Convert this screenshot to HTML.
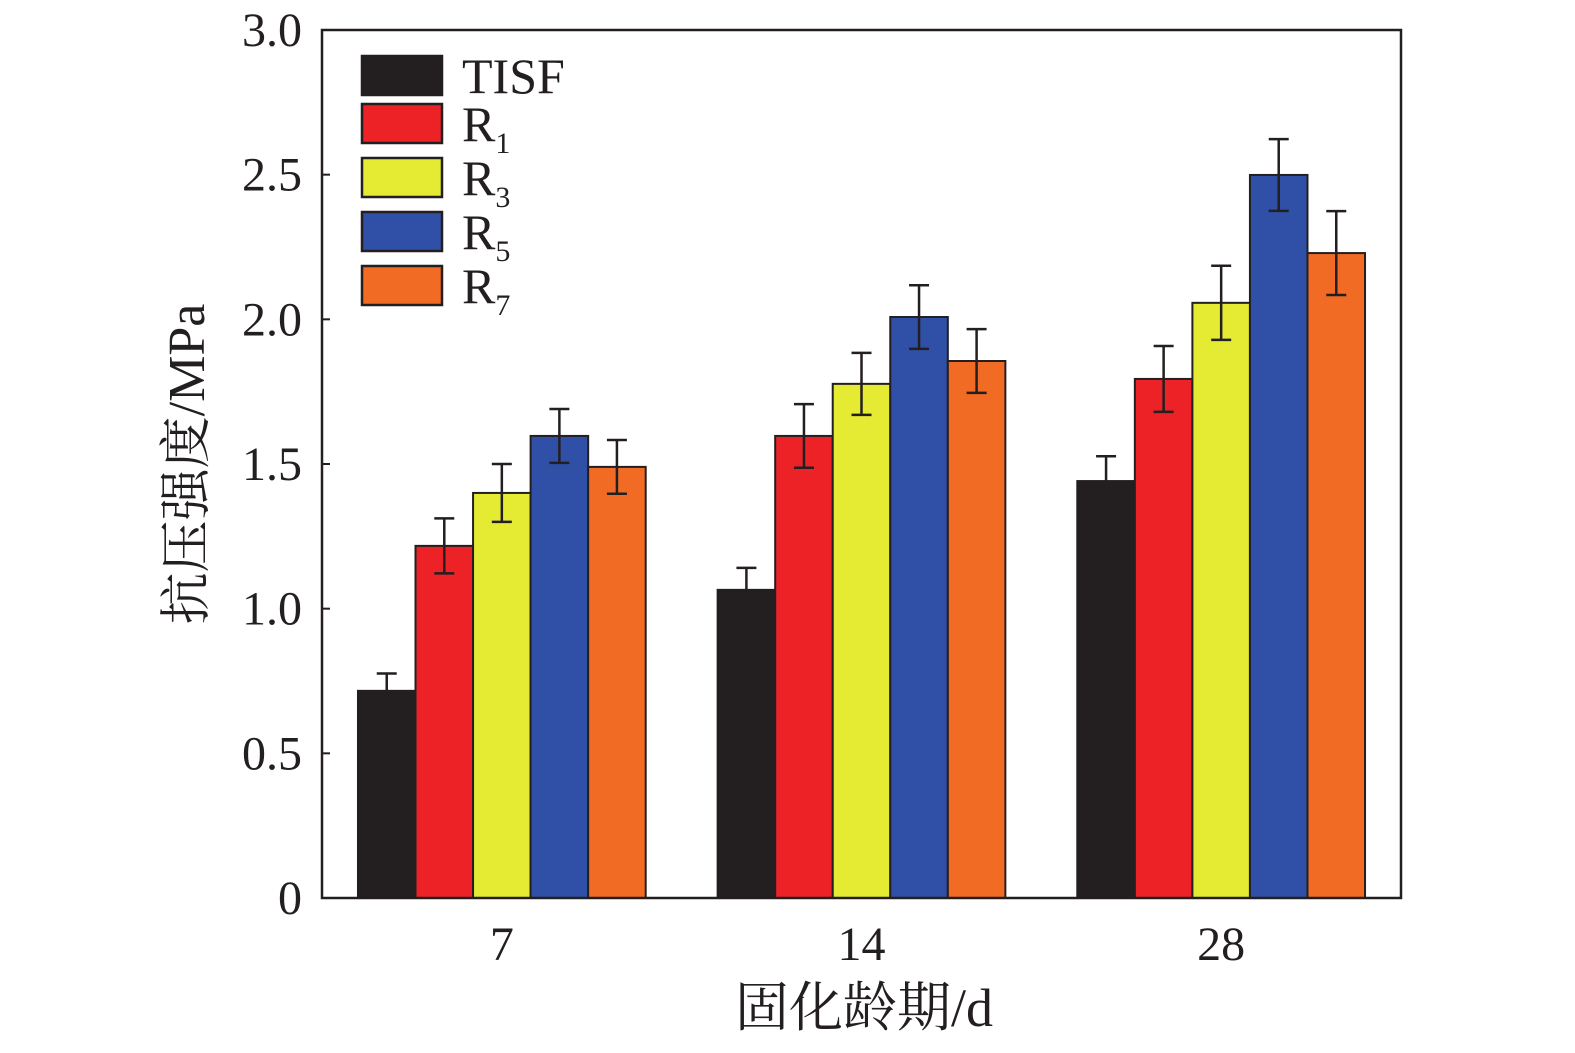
<!DOCTYPE html>
<html><head><meta charset="utf-8"><style>
html,body{margin:0;padding:0;background:#fff;}
svg text{font-family:"Liberation Serif","Noto Serif CJK SC",serif;fill:#231f20;}
</style></head><body>
<svg id="chart" width="1575" height="1048" viewBox="0 0 1575 1048" xmlns="http://www.w3.org/2000/svg">
<g id="bars"></g>
<g id="axes"></g>
<g id="legend"></g>
<text x="192" y="464" font-size="52" text-anchor="middle" transform="rotate(-90 192 464)" dominant-baseline="middle">抗压强度/MPa</text>
<text x="864" y="1026" font-size="54" text-anchor="middle">固化龄期/d</text>
</svg>
<script>
const categories = ["7","14","28"];
const seriesNames = ["TISF","R1","R3","R5","R7"];
const seriesSubs = ["","1","3","5","7"];
const seriesColors = ["#231f20","#ed2227","#e5eb33","#3050a8","#f26b24"];
const tisf = [0.716,1.065,1.441];
const r1 = [1.217,1.597,1.794];
const r3 = [1.40,1.777,2.057];
const r5 = [1.597,2.008,2.499];
const r7 = [1.49,1.856,2.229];
const tisfErr = [0.06,0.076,0.086];
const r1Err = [0.095,0.11,0.114];
const r3Err = [0.10,0.107,0.128];
const r5Err = [0.093,0.11,0.124];
const r7Err = [0.093,0.11,0.145];
const yTicks = [0,0.5,1.0,1.5,2.0,2.5,3.0];
const yTickLabels = ["0","0.5","1.0","1.5","2.0","2.5","3.0"];

const NS="http://www.w3.org/2000/svg";
const L=322,R=1401,T=30,B=898,yMax=3;
const y=v=>B-(v/yMax)*(B-T);
const gw=(R-L)/categories.length;
const bw=gw*0.8/5;
const x=(ci,si)=>L+gw*ci+gw*0.1+bw*si;
function mk(tag,attrs,parent){const e=document.createElementNS(NS,tag);for(const k in attrs)e.setAttribute(k,attrs[k]);parent.appendChild(e);return e;}
const vals=[tisf,r1,r3,r5,r7], errs=[tisfErr,r1Err,r3Err,r5Err,r7Err];
const gb=document.getElementById('bars');
categories.forEach((c,ci)=>{
  vals.forEach((s,si)=>{
    const bx=x(ci,si), v=s[ci], e=errs[si][ci], cx=bx+bw/2;
    const r=mk('rect',{x:bx,y:y(v),width:bw,height:B-y(v),fill:seriesColors[si],stroke:'#231f20','stroke-width':2},gb);
    
    
    const eb=mk('path',{d:`M${cx} ${y(v+e)}V${y(v-e)}M${cx-10} ${y(v+e)}H${cx+10}M${cx-10} ${y(v-e)}H${cx+10}`,stroke:'#231f20','stroke-width':2.5,fill:'none'},gb);
    
    
  });
});
const ga=document.getElementById('axes');
const fr=mk('rect',{x:L,y:T,width:R-L,height:B-T,fill:'none',stroke:'#231f20','stroke-width':2.5},ga);


yTicks.forEach((t,i)=>{
  const tk=mk('line',{x1:L,x2:L+8,y1:y(t),y2:y(t),stroke:'#231f20','stroke-width':2},ga);
  
  
  const tl=mk('text',{x:302,y:y(t)+16,'font-size':48,'text-anchor':'end'},ga);
  tl.textContent=yTickLabels[i];
  
  
});
categories.forEach((c,ci)=>{
  const cx=L+gw*(ci+0.5);
  const tl=mk('text',{x:cx,y:960,'font-size':48,'text-anchor':'middle'},ga);
  tl.textContent=c;
  
  
});
const gl=document.getElementById('legend');
seriesNames.forEach((n,i)=>{
  const ty=[56,104,158,212,266][i];
  const sw=mk('rect',{x:362,y:ty,width:80,height:39,fill:seriesColors[i],stroke:'#231f20','stroke-width':2.5},gl);
  
  
  const t=mk('text',{x:462,y:ty+37,'font-size':50},gl);
  
  
  if(seriesSubs[i]){
    t.textContent='R';
    const s=document.createElementNS(NS,'tspan');
    s.setAttribute('font-size','30');s.setAttribute('dy','12');
    s.textContent=seriesSubs[i];t.appendChild(s);
  } else t.textContent=n;
});
</script>
</body></html>
